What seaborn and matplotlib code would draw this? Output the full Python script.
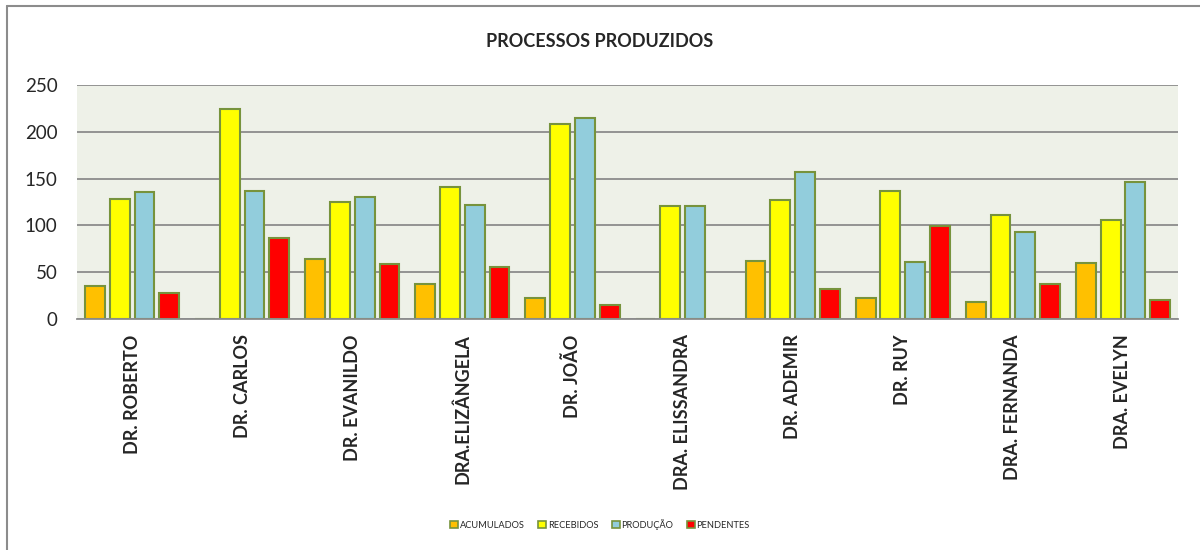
import pandas as pd
import matplotlib.pyplot as plt
import seaborn as sns
from matplotlib.patches import Rectangle
from matplotlib.lines import Line2D

# values
judges = ['DR. ROBERTO', 'DR. CARLOS', 'DR. EVANILDO', 'DRA.ELIZÂNGELA', 'DR. JOÃO',
          'DRA. ELISSANDRA', 'DR. ADEMIR', 'DR. RUY', 'DRA. FERNANDA', 'DRA. EVELYN']
acumulados = [35, 0, 64, 37, 22, 0, 62, 22, 18, 60]
recebidos = [128, 224, 125, 141, 208, 121, 127, 137, 111, 106]
producao = [136, 137, 130, 122, 215, 121, 157, 61, 93, 146]
pendentes = [28, 86, 59, 56, 15, 0, 32, 99, 37, 20]

series = ['ACUMULADOS', 'RECEBIDOS', 'PRODUÇÃO', 'PENDENTES']
colors = ['#FFC000', '#FFFF00', '#92CDDC', '#FF0000']

df = pd.DataFrame({'juiz': judges, 'ACUMULADOS': acumulados, 'RECEBIDOS': recebidos,
                   'PRODUÇÃO': producao, 'PENDENTES': pendentes})
long = df.melt(id_vars='juiz', var_name='serie', value_name='valor')

sns.set_style('white')
plt.rcParams['font.family'] = ['Lato', 'DejaVu Sans']

fig = plt.figure(figsize=(12, 5.5), dpi=100)
ax = fig.add_axes([0.0642, 0.42, 0.9175, 0.4255])

sns.barplot(data=long, x='juiz', y='valor', hue='serie', hue_order=series,
            palette=dict(zip(series, colors)), saturation=1, width=0.9, gap=0.2,
            edgecolor='#77933C', linewidth=1.5, ax=ax, legend=False)

ax.set_facecolor('#EEF1E8')
ax.set_ylim(0, 250)
ax.set_xlim(-0.5, len(judges) - 0.5)
ax.set_yticks(range(0, 251, 50))
ax.yaxis.grid(True, color='#8C8C8C', linewidth=1.3)
ax.set_axisbelow(True)
for s in ['left', 'right', 'top']:
    ax.spines[s].set_visible(False)
ax.spines['bottom'].set_color('#8C8C8C')
ax.spines['bottom'].set_linewidth(1.3)
ax.tick_params(axis='both', length=0)
ax.tick_params(axis='y', labelsize=13.5, pad=14)
ax.tick_params(axis='x', pad=11)
ax.set_xticks(range(len(judges)))
ax.set_xticklabels(judges, rotation=90, fontsize=13, fontweight='bold')
ax.set_xlabel('')
ax.set_ylabel('')

fig.text(0.5, 0.925, 'PROCESSOS PRODUZIDOS', ha='center', va='center',
         fontsize=13, fontweight='bold')

handles = [Rectangle((0, 0), 1, 1, facecolor=c, edgecolor='#77933C', linewidth=1.2)
           for c in colors]
fig.legend(handles, series, loc='center', bbox_to_anchor=(0.5, 0.047), ncol=4,
           frameon=False, fontsize=6.7, handlelength=0.8, handleheight=0.8,
           handletextpad=0.2, columnspacing=1.5)

# chart border (only top and left edges are visible in the crop)
fig.add_artist(Line2D([0.0058, 1.0], [0.990, 0.990], transform=fig.transFigure,
                      color='#8C8C8C', linewidth=1.5))
fig.add_artist(Line2D([0.0058, 0.0058], [0.0, 0.990], transform=fig.transFigure,
                      color='#8C8C8C', linewidth=1.5))

fig.savefig('out.png', dpi=100, facecolor='white')
